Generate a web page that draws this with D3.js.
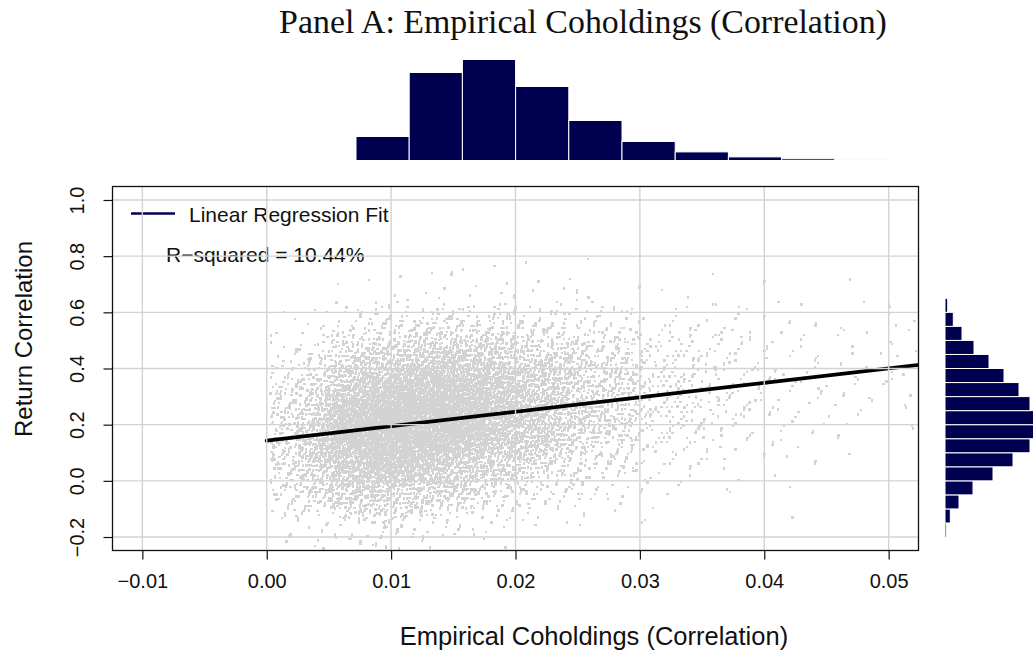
<!DOCTYPE html>
<html><head><meta charset="utf-8">
<script src="https://cdn.jsdelivr.net/npm/d3@7"></script>
<style>body{margin:0;background:#fff} svg{display:block}</style>
</head><body>
<svg id="c" width="1033" height="657"></svg>
<script>
// ---------- data ----------
const titleText = "Panel A: Empirical Coholdings (Correlation)";
const xLabel = "Empirical Coholdings (Correlation)";
const yLabel = "Return Correlation";
const xTicks = [-0.01, 0, 0.01, 0.02, 0.03, 0.04, 0.05];
const xTickLabels = ["\u22120.01", "0.00", "0.01", "0.02", "0.03", "0.04", "0.05"];
const yTicks = [-0.2, 0, 0.2, 0.4, 0.6, 0.8, 1.0];
const yTickLabels = ["\u22120.2", "0.0", "0.2", "0.4", "0.6", "0.8", "1.0"];
const xDomain = [-0.0124, 0.0524];
const yDomain = [-0.248, 1.048];

// scatter cloud, read as a density table: points per cell (columns = x bins, entries = y bins)
const cloudXEdges = [0, 0.0025, 0.005, 0.0075, 0.01, 0.0125, 0.015, 0.0175, 0.02, 0.0225, 0.025, 0.0275, 0.03, 0.035, 0.04, 0.045, 0.05, 0.0525];
const cloudYEdges = [-0.25, -0.2, -0.1, 0, 0.1, 0.2, 0.3, 0.4, 0.5, 0.6, 0.7, 0.85];
const cloudCounts = [
  [1, 4, 20, 38, 47, 38, 20, 8, 2, 0, 0],
  [2, 9, 53, 102, 124, 102, 53, 20, 5, 1, 0],
  [3, 15, 95, 195, 267, 242, 142, 63, 17, 1, 1],
  [4, 20, 126, 260, 356, 322, 189, 83, 23, 2, 1],
  [3, 14, 100, 232, 361, 361, 232, 112, 32, 3, 1],
  [2, 10, 72, 182, 311, 343, 251, 137, 44, 5, 1],
  [1, 8, 61, 155, 265, 292, 214, 116, 37, 5, 1],
  [1, 4, 34, 100, 192, 234, 192, 112, 39, 5, 1],
  [0, 3, 24, 71, 136, 166, 136, 80, 28, 4, 1],
  [0, 2, 13, 43, 89, 122, 110, 73, 29, 5, 1],
  [0, 1, 8, 27, 56, 76, 69, 46, 18, 3, 1],
  [0, 1, 4, 15, 36, 56, 56, 40, 17, 3, 0],
  [0, 1, 5, 16, 38, 59, 59, 43, 18, 3, 1],
  [0, 0, 1, 5, 13, 24, 29, 26, 14, 4, 0],
  [0, 0, 1, 3, 7, 12, 14, 12, 7, 2, 0],
  [0, 0, 0, 1, 3, 6, 8, 8, 5, 2, 1],
  [0, 0, 0, 0, 2, 3, 4, 4, 3, 1, 0]
];

const fitIntercept = 0.143;
const fitSlope = 5.15;
const fitXRange = [0, 0.056];
const legendLabel = "Linear Regression Fit";
const rsqLabel = "R\u2212squared = 10.44%";

const topHistCounts = [24, 88, 101, 74, 40, 19, 8.6, 3.6, 1.7, 0.7];
const rightHistEdges = [-0.2, -0.15, -0.1, -0.05, 0, 0.05, 0.1, 0.15, 0.2, 0.25, 0.3, 0.35, 0.4, 0.45, 0.5, 0.55, 0.6, 0.65, 0.7];
const rightHistCounts = [1.3, 5.3, 14, 28, 48, 68, 85, 89, 90, 85, 74, 59, 44, 29, 17, 8.3, 2.7, 0.7];

// ---------- drawing ----------
const svg = d3.select("#c");
const P = {l: 112.5, r: 918.5, t: 186.5, b: 550.5};
const x = d3.scaleLinear().domain(xDomain).range([P.l, P.r]);
const y = d3.scaleLinear().domain(yDomain).range([P.b, P.t]);
const sans = "'Liberation Sans', Arial, Helvetica, sans-serif";
const histFill = "#000050";
const grey = "#D3D3D3";
const ink = "#111";

svg.append("defs").append("clipPath").attr("id", "pc")
  .append("rect").attr("x", P.l).attr("y", P.t).attr("width", P.r - P.l).attr("height", P.b - P.t);

// title
const title = svg.append("text").attr("x", 583).attr("y", 33).attr("text-anchor", "middle")
  .attr("font-family", "'Liberation Serif', 'DejaVu Serif', serif").attr("font-size", 28)
  .attr("fill", ink).text(titleText);
const tl = title.node().getComputedTextLength();
title.attr("font-size", 28 * 608 / tl);

// top histogram
const hxi = d3.scaleLinear().domain([0, topHistCounts.length]).range([356, 888]);
const hh = d3.scaleLinear().domain([0, 101]).range([160.5, 59.5]);
svg.append("g").selectAll("rect").data(topHistCounts).join("rect")
  .attr("x", (d, i) => hxi(i)).attr("width", (d, i) => hxi(i + 1) - hxi(i))
  .attr("y", d => hh(d)).attr("height", d => Math.max(hh(0) - hh(d), 1))
  .attr("fill", (d, i) => d < 1 ? "#a8a8d8" : histFill).attr("stroke", "#fff").attr("stroke-width", 1);

// right histogram
const rw = d3.scaleLinear().domain([0, 88]).range([945, 1033]);
svg.append("g").selectAll("rect").data(rightHistCounts).join("rect")
  .attr("x", rw(0)).attr("width", d => rw(d) - rw(0))
  .attr("y", (d, i) => y(rightHistEdges[i + 1])).attr("height", (d, i) => y(rightHistEdges[i]) - y(rightHistEdges[i + 1]))
  .attr("fill", histFill).attr("stroke", "#fff").attr("stroke-width", 1);

// scatter cloud: each cell's points spread with a triangular kernel over neighbouring cells
const plotG = svg.append("g").attr("clip-path", "url(#pc)");
const pts = [];
const g4 = 1.1673039782614187;
const al = [1 / g4, 1 / (g4 * g4), 1 / (g4 ** 3), 1 / (g4 ** 4)];
const fr = v => v - Math.floor(v);
cloudCounts.forEach((col, i) => {
  const x0 = cloudXEdges[i], x1 = cloudXEdges[i + 1];
  const cx = (x0 + x1) / 2, wx = x1 - x0;
  col.forEach((n, j) => {
    const y0 = cloudYEdges[j], y1 = cloudYEdges[j + 1];
    const cy = (y0 + y1) / 2, wy = y1 - y0;
    const s = (i * 11 + j) * 131 + 7;
    for (let k = 0; k < n; k++) {
      const m = k + s;
      const u1 = fr(0.5 + m * al[0]), u2 = fr(0.5 + m * al[1]);
      const v1 = fr(0.5 + m * al[2]), v2 = fr(0.5 + m * al[3]);
      let px = cx + (u1 + u2 - 1) * wx;
      let py = cy + (v1 + v2 - 1) * wy;
      if (px < 0.0003) px = 0.0006 - px;
      pts.push([px, py]);
    }
  });
});
plotG.append("g").attr("fill", grey).attr("shape-rendering", "crispEdges")
  .selectAll("rect").data(pts).join("rect")
  .attr("x", d => x(d[0]) - 1.2).attr("y", d => y(d[1]) - 1.2)
  .attr("width", 2.4).attr("height", 2.4);

// regression line
plotG.append("line")
  .attr("x1", x(fitXRange[0])).attr("y1", y(fitIntercept + fitSlope * fitXRange[0]))
  .attr("x2", x(fitXRange[1])).attr("y2", y(fitIntercept + fitSlope * fitXRange[1]))
  .attr("stroke", "#000").attr("stroke-width", 3.8).attr("stroke-linecap", "round");

// legend + annotation
svg.append("line").attr("x1", 131).attr("x2", 175).attr("y1", 213.5).attr("y2", 213.5)
  .attr("stroke", histFill).attr("stroke-width", 2.6);
svg.append("text").attr("x", 189).attr("y", 221.5).attr("font-family", sans).attr("font-size", 21)
  .attr("fill", ink).text(legendLabel);
svg.append("text").attr("x", 166).attr("y", 262).attr("font-family", sans).attr("font-size", 21)
  .attr("fill", ink).text(rsqLabel);

// grid on top
const gridG = svg.append("g").attr("stroke", grey).attr("stroke-width", 1.4).attr("clip-path", "url(#pc)");
gridG.selectAll(".gv").data(xTicks).join("line").attr("class", "gv")
  .attr("x1", d => x(d)).attr("x2", d => x(d)).attr("y1", P.t).attr("y2", P.b);
gridG.selectAll(".gh").data(yTicks).join("line").attr("class", "gh")
  .attr("y1", d => y(d)).attr("y2", d => y(d)).attr("x1", P.l).attr("x2", P.r);

// axes
const xAxis = d3.axisBottom(x).tickValues(xTicks).tickFormat((d, i) => xTickLabels[i]).tickSize(9).tickPadding(14);
const gx = svg.append("g").attr("transform", `translate(0,${P.b})`).call(xAxis);
gx.select(".domain").remove();
gx.selectAll("line").attr("stroke", ink).attr("stroke-width", 1.2);
gx.selectAll("text").attr("font-family", sans).attr("font-size", 20).attr("fill", ink);

const yAxis = d3.axisLeft(y).tickValues(yTicks).tickFormat((d, i) => yTickLabels[i]).tickSize(9).tickPadding(0);
const gy = svg.append("g").attr("transform", `translate(${P.l},0)`).call(yAxis);
gy.select(".domain").remove();
gy.selectAll("line").attr("stroke", ink).attr("stroke-width", 1.2);
gy.selectAll("text").attr("font-family", sans).attr("font-size", 20).attr("fill", ink)
  .attr("x", null).attr("dy", null).attr("text-anchor", "middle")
  .attr("transform", `translate(${84 - P.l},0) rotate(-90)`);

// box
svg.append("rect").attr("x", P.l).attr("y", P.t).attr("width", P.r - P.l).attr("height", P.b - P.t)
  .attr("fill", "none").attr("stroke", ink).attr("stroke-width", 1.3);

// axis titles
svg.append("text").attr("x", 594).attr("y", 645).attr("text-anchor", "middle")
  .attr("font-family", sans).attr("font-size", 25.5).attr("fill", ink).text(xLabel);
svg.append("text").attr("transform", "translate(32,339) rotate(-90)").attr("text-anchor", "middle")
  .attr("font-family", sans).attr("font-size", 24).attr("fill", ink).text(yLabel);
</script>
</body></html>
